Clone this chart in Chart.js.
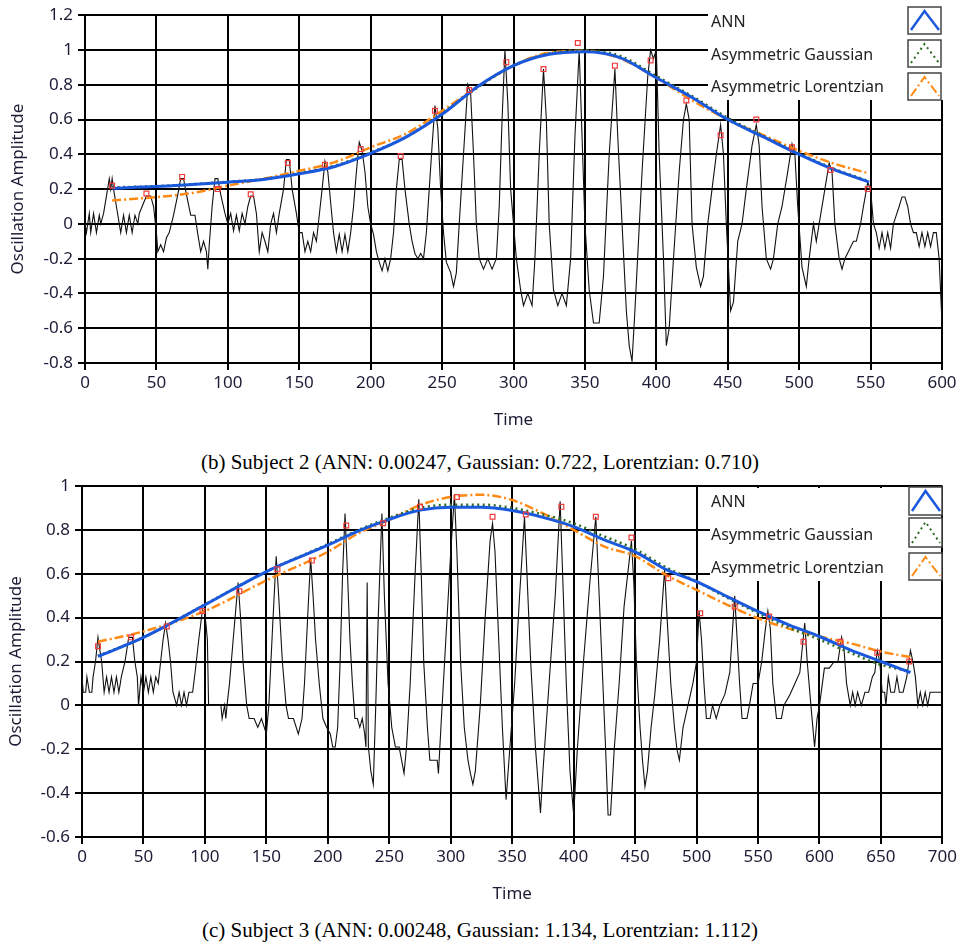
<!DOCTYPE html>
<html>
<head>
<meta charset="utf-8">
<script src="https://cdn.jsdelivr.net/npm/chart.js@4.4.1/dist/chart.umd.min.js"></script>
<style>
    body { margin: 0; background: #fff; width: 960px; height: 948px; position: relative; overflow: hidden; }
    canvas { position: absolute; left: 0; }
    .caption { position: absolute; left: 0; width: 960px; text-align: center; font-family: 'Liberation Serif', 'Times New Roman', serif; font-size: 21px; line-height: 24px; color: #000; white-space: nowrap; }
</style>
</head>
<body>
<canvas id="chart1" width="960" height="440" style="top:0px"></canvas>
<div class="caption" style="top:450px">(b) Subject 2 (ANN: 0.00247, Gaussian: 0.722, Lorentzian: 0.710)</div>
<canvas id="chart2" width="960" height="440" style="top:470px"></canvas>
<div class="caption" style="top:918px">(c) Subject 3 (ANN: 0.00248, Gaussian: 1.134, Lorentzian: 1.112)</div>
<script>
// ---- Subject 2 ----
// raw oscillation [time, amplitude]
const signal1 = [
    [0,0.0],[1,-0.05],[3,0.06],[4,-0.05],[6,0.06],[8,-0.05],[10,0.05],[11,0.0],[13,0.06],
    [15,0.16],[17,0.26],[18,0.2],[19,0.26],[20,0.2],[22,0.1],[24,0.0],
    [25,-0.05],[27,0.05],[29,-0.05],[31,0.05],[33,-0.05],[35,0.05],[37,0.0],[38,0.06],
    [41,0.12],[43,0.16],[46,0.16],[48,0.1],[50,-0.05],[51,-0.16],[53,-0.12],[55,-0.16],[57,-0.08],
    [59,-0.05],[62,0.05],[65,0.17],[67,0.26],[69,0.26],[71,0.17],[74,0.05],[77,0.05],[79,-0.06],
    [81,-0.16],[83,-0.1],[85,-0.16],[86,-0.26],[87,-0.12],[89,0.1],[91,0.26],[93,0.26],[95,0.17],
    [98,0.06],[100,0.0],[102,0.06],[104,-0.04],[106,0.05],[108,-0.04],[110,0.06],[112,0.0],
    [114,0.1],[116,0.16],[118,0.16],[120,0.06],[122,-0.16],[124,-0.05],[126,-0.1],[128,-0.16],
    [130,0.0],[132,0.06],[134,-0.05],[136,0.06],[139,0.2],[141,0.37],[143,0.37],[145,0.2],
    [148,0.06],[150,-0.05],[152,-0.05],[154,-0.16],[156,-0.1],[158,-0.16],[160,-0.05],[162,-0.1],
    [164,0.05],[166,0.2],[168,0.36],[170,0.3],[172,0.12],[174,-0.05],[176,-0.16],[178,-0.06],
    [180,-0.16],[182,-0.06],[184,-0.16],[186,-0.05],[188,0.1],[190,0.3],[192,0.47],[194,0.42],
    [196,0.3],[198,0.1],[200,0.0],[202,-0.06],[204,-0.16],[206,-0.22],[208,-0.27],[210,-0.2],
    [212,-0.27],[214,-0.2],[216,-0.05],[218,0.2],[220,0.37],[222,0.37],[224,0.2],[227,0.0],
    [229,-0.1],[231,-0.17],[233,-0.2],[235,-0.17],[237,-0.2],[239,-0.05],[241,0.2],[243,0.45],
    [245,0.68],[247,0.55],[249,0.2],[251,-0.05],[253,-0.22],[256,-0.28],[258,-0.36],[260,-0.28],
    [262,0.0],[265,0.4],[268,0.8],[270,0.75],[272,0.4],[274,0.0],[276,-0.2],[279,-0.26],
    [282,-0.2],[285,-0.26],[288,-0.2],[290,0.1],[292,0.6],[294,1.0],[296,0.7],[298,0.2],
    [302,-0.2],[305,-0.38],[307,-0.47],[310,-0.4],[313,-0.47],[315,-0.2],[318,0.4],[321,0.89],
    [323,0.6],[325,0.0],[328,-0.38],[331,-0.47],[334,-0.4],[337,-0.47],[340,-0.2],[343,0.5],
    [346,1.0],[348,0.5],[350,0.0],[353,-0.38],[356,-0.57],[360,-0.57],[363,-0.3],[367,0.4],
    [371,0.89],[373,0.5],[376,0.0],[379,-0.5],[381,-0.7],[383,-0.79],[385,-0.5],[390,0.3],
    [394,0.85],[396,1.0],[398,0.95],[400,1.0],[402,0.4],[405,-0.2],[407,-0.7],
    [409,-0.6],[412,-0.2],[416,0.3],[419,0.6],[421,0.69],[423,0.6],[425,0.0],[428,-0.25],
    [431,-0.36],[433,-0.3],[436,0.0],[439,0.2],[442,0.4],[445,0.57],[447,0.4],[449,0.0],
    [452,-0.5],[454,-0.45],[457,-0.1],[460,0.0],[463,0.2],[467,0.45],[470,0.57],[472,0.45],
    [474,0.1],[477,-0.2],[480,-0.26],[482,-0.2],[485,0.0],[488,0.1],[492,0.3],[495,0.46],
    [497,0.4],[499,0.1],[502,-0.25],[505,-0.36],[507,-0.2],[510,0.0],[512,-0.1],[515,0.05],
    [518,0.2],[521,0.35],[523,0.3],[525,0.0],[528,-0.2],[530,-0.26],[532,-0.2],[535,-0.15],
    [538,-0.1],[540,-0.1],[543,0.0],[545,0.1],[548,0.24],[550,0.2],[552,0.0],[554,-0.05],
    [556,-0.14],[558,-0.05],[560,-0.14],[562,-0.05],[564,-0.14],[566,0.0],[568,0.05],[570,0.1],
    [572,0.155],[574,0.155],[576,0.1],[578,0.0],[580,-0.05],[582,-0.05],[584,-0.13],[586,-0.05],
    [588,-0.13],[590,-0.05],[592,-0.13],[594,-0.05],[596,-0.05],[598,-0.2],[600,-0.57]
];
const peakTime1 = [19, 43, 68, 93, 116, 142, 168, 193, 221, 245, 269, 295, 321, 345, 371, 396, 421, 445, 470, 495, 522, 548];
const peakAmp1 = [0.22, 0.175, 0.27, 0.2, 0.17, 0.35, 0.34, 0.43, 0.39, 0.65, 0.77, 0.93, 0.89, 1.04, 0.91, 0.94, 0.71, 0.51, 0.6, 0.44, 0.31, 0.2];
const fitTime1 = [19, 50, 75, 100, 125, 150, 175, 200, 225, 250, 275, 300, 325, 350, 375, 400, 425, 450, 475, 500, 525, 549];
const ann1 = [0.205, 0.215, 0.227, 0.24, 0.255, 0.288, 0.33, 0.405, 0.5, 0.63, 0.79, 0.91, 0.975, 0.99, 0.955, 0.84, 0.727, 0.6, 0.5, 0.4, 0.31, 0.24];
const gauss1 = [0.21, 0.217, 0.228, 0.242, 0.258, 0.292, 0.335, 0.41, 0.5, 0.635, 0.785, 0.91, 0.98, 0.998, 0.965, 0.85, 0.735, 0.61, 0.505, 0.405, 0.315, 0.245];
const lor1 = [0.135, 0.154, 0.177, 0.22, 0.26, 0.305, 0.355, 0.44, 0.52, 0.65, 0.79, 0.91, 0.985, 0.995, 0.95, 0.84, 0.71, 0.6, 0.51, 0.42, 0.345, 0.29];

// ---- Subject 3 ----
const signal2 = [
    [0,0.13],[1,0.06],[3,0.06],[4,0.13],[6,0.06],[8,0.06],[9,0.13],[11,0.2],[13,0.31],[14,0.27],
    [16,0.2],[18,0.06],[20,0.13],[22,0.06],[24,0.13],[26,0.06],[28,0.13],[30,0.06],[32,0.13],
    [35,0.2],[38,0.31],[41,0.31],[43,0.2],[45,0.13],[46,0.0],[48,0.13],[50,0.06],[52,0.13],
    [54,0.06],[56,0.13],[58,0.06],[60,0.13],[62,0.1],[64,0.2],[66,0.3],[68,0.375],[70,0.3],
    [72,0.2],[74,0.06],[77,0.0],[79,0.06],[81,0.0],[83,0.06],[85,0.0],[87,0.06],[90,0.06],
    [92,0.15],[95,0.3],[98,0.435],[100,0.42],[102,0.3],[103,0.0],[113,0.0],[114,-0.06],[116,0.0],
    [117,-0.06],[118,0.0],[120,0.1],[123,0.3],[127,0.56],[129,0.4],[131,0.2],[134,0.0],
    [136,-0.06],[140,-0.06],[143,-0.1],[146,-0.06],[150,-0.13],[152,0.0],[155,0.35],[158,0.68],
    [160,0.5],[163,0.2],[166,0.0],[168,-0.06],[172,-0.06],[176,-0.13],[179,-0.06],[181,0.1],
    [184,0.45],[186,0.67],[188,0.5],[190,0.3],[193,0.1],[196,-0.06],[199,-0.1],[202,-0.13],
    [204,-0.19],[206,-0.19],[208,-0.1],[210,0.2],[212,0.6],[214,0.875],[216,0.6],[218,0.3],
    [220,0.1],[222,-0.06],[224,-0.06],[226,-0.1],[228,-0.06],[230,-0.13],[231,-0.19],[232,0.56],
    [233,-0.19],[235,-0.3],[237,-0.36],[239,0.0],[241,0.4],[244,0.875],[246,0.5],[249,0.1],
    [252,-0.1],[255,-0.19],[258,-0.19],[260,-0.25],[262,-0.31],[264,-0.19],[267,0.1],[271,0.6],
    [274,0.94],[276,0.6],[278,0.2],[281,-0.1],[283,-0.25],[286,-0.25],[289,-0.25],[290,-0.31],
    [292,-0.1],[296,0.3],[300,0.7],[303,0.96],[305,0.7],[308,0.2],[311,-0.1],[314,-0.25],
    [316,-0.31],[318,-0.36],[320,-0.3],[324,0.0],[328,0.4],[332,0.75],[334,0.83],[336,0.7],
    [339,0.3],[342,-0.1],[345,-0.43],[348,-0.2],[352,0.1],[356,0.5],[360,0.86],[362,0.6],
    [365,0.2],[369,-0.2],[373,-0.49],[375,-0.3],[380,0.1],[385,0.5],[389,0.93],[391,0.6],
    [394,0.1],[397,-0.3],[400,-0.5],[403,-0.2],[408,0.2],[413,0.55],[418,0.86],[420,0.6],
    [423,0.2],[426,-0.2],[428,-0.5],[430,-0.5],[433,-0.2],[437,0.1],[441,0.45],[447,0.75],
    [449,0.55],[451,0.2],[454,-0.1],[456,-0.25],[458,-0.37],[460,-0.3],[463,-0.1],[466,0.05],
    [470,0.3],[474,0.62],[476,0.4],[479,0.1],[482,-0.1],[484,-0.2],[486,-0.25],[489,-0.1],
    [493,0.0],[497,0.1],[500,0.2],[502,0.43],[504,0.3],[506,0.1],[508,-0.06],[511,-0.06],
    [513,0.0],[516,-0.06],[519,0.0],[523,0.05],[527,0.15],[531,0.5],[533,0.3],[535,0.1],
    [537,-0.06],[541,-0.06],[543,0.0],[546,0.1],[550,0.1],[553,0.2],[556,0.35],[558,0.43],
    [560,0.35],[562,0.1],[565,-0.06],[569,-0.06],[571,0.0],[576,0.05],[580,0.1],[584,0.15],
    [588,0.375],[590,0.2],[593,0.0],[596,-0.19],[598,-0.06],[600,0.0],[604,0.17],[608,0.17],
    [612,0.2],[615,0.2],[618,0.31],[620,0.25],[622,0.1],[625,0.0],[627,0.06],[629,0.0],
    [631,0.06],[634,0.0],[637,0.06],[640,0.06],[643,0.13],[645,0.15],[647,0.25],[649,0.2],
    [651,0.06],[653,0.06],[654,0.0],[656,0.13],[658,0.06],[661,0.06],[663,0.13],[665,0.06],
    [668,0.06],[671,0.13],[674,0.25],[676,0.2],[678,0.13],[680,0.0],[682,0.06],[684,0.0],
    [686,0.06],[688,0.0],[690,0.06],[699,0.06]
];
const peakTime2 = [13, 40, 69, 98, 128, 159, 187, 215, 245, 275, 305, 334, 361, 390, 418, 447, 477, 503, 531, 559, 587, 617, 647, 673];
const peakAmp2 = [0.27, 0.31, 0.36, 0.43, 0.52, 0.62, 0.66, 0.82, 0.83, 0.905, 0.95, 0.86, 0.87, 0.905, 0.86, 0.765, 0.58, 0.42, 0.45, 0.405, 0.29, 0.29, 0.24, 0.2];
const fitTime2 = [13, 50, 100, 150, 200, 225, 250, 275, 300, 325, 350, 375, 400, 425, 450, 475, 500, 525, 550, 575, 600, 625, 650, 674];
const ann2 = [0.223, 0.31, 0.458, 0.61, 0.73, 0.795, 0.848, 0.89, 0.903, 0.903, 0.888, 0.857, 0.815, 0.754, 0.7, 0.62, 0.564, 0.496, 0.428, 0.367, 0.314, 0.253, 0.2, 0.15];
const gauss2 = [0.225, 0.31, 0.46, 0.61, 0.735, 0.8, 0.855, 0.9, 0.915, 0.915, 0.9, 0.87, 0.83, 0.77, 0.712, 0.63, 0.565, 0.49, 0.42, 0.355, 0.3, 0.24, 0.185, 0.155];
const lor2 = [0.29, 0.337, 0.43, 0.57, 0.7, 0.785, 0.845, 0.913, 0.95, 0.96, 0.936, 0.875, 0.8, 0.724, 0.68, 0.595, 0.526, 0.458, 0.397, 0.35, 0.314, 0.283, 0.245, 0.22];

const seriesNames = ['ANN', 'Asymmetric Gaussian', 'Asymmetric Lorentzian'];
const seriesColors = ['#1a58dc', '#2e6a20', '#ff8a14'];
const seriesDash = [[], [2, 3.5], [9, 3, 2, 3]];
const tickColor = '#1c1c36';

function pairs(xs, ys) {
    return xs.map((x, i) => ({ x, y: ys[i] }));
}

function boxLegend(box) {
    return {
        id: 'boxLegend',
        beforeDatasetsDraw(chart) {
            const ctx = chart.ctx;
            ctx.save();
            ctx.fillStyle = '#fff';
            ctx.fillRect(box.x, box.y, box.w, box.h);
            ctx.restore();
        },
        afterDatasetsDraw(chart) {
            const ctx = chart.ctx;
            ctx.save();
            ctx.font = '16px "Noto Sans"';
            ctx.fillStyle = '#222';
            seriesNames.forEach((name, i) => {
                ctx.setLineDash([]);
                ctx.fillText(name, box.textX, box.baselines[i]);
                const [ix, iy, iw, ih] = box.icons[i];
                ctx.fillStyle = '#fff';
                ctx.fillRect(ix, iy, iw, ih);
                ctx.fillStyle = '#222';
                ctx.lineWidth = 1.5;
                ctx.strokeStyle = '#444';
                ctx.strokeRect(ix, iy, iw, ih);
                ctx.beginPath();
                ctx.moveTo(ix + 3, iy + ih - 4);
                ctx.lineTo(ix + iw / 2, iy + 4);
                ctx.lineTo(ix + iw - 2, iy + ih - 4);
                ctx.strokeStyle = seriesColors[i];
                ctx.lineWidth = i === 0 ? 2.5 : 2;
                ctx.setLineDash(seriesDash[i]);
                ctx.stroke();
            });
            ctx.restore();
        }
    };
}

function makeChart(id, o) {
    const fitData = [o.ann, o.gauss, o.lor];
    const datasets = [{
        type: 'scatter',
        data: pairs(o.peakTime, o.peakAmp),
        pointStyle: 'rect',
        pointRadius: 3.4,
        borderColor: '#ee3b3b',
        borderWidth: 1.2,
        backgroundColor: 'rgba(255,255,255,0)',
        showLine: false
    }];
    fitData.forEach((vals, i) => {
        datasets.push({
            type: 'line',
            data: pairs(o.fitTime, vals),
            borderColor: seriesColors[i],
            borderWidth: i === 0 ? 3 : 2.5,
            borderDash: seriesDash[i],
            pointRadius: 0,
            cubicInterpolationMode: 'monotone',
            fill: false
        });
    });
    datasets.push({
        type: 'line',
        data: o.signal.map(p => ({ x: p[0], y: p[1] })),
        borderColor: '#111',
        borderWidth: 1.1,
        pointRadius: 0,
        tension: 0,
        fill: false
    });

    const grid = { color: '#000', lineWidth: 2, tickLength: 7 };
    return new Chart(document.getElementById(id), {
        data: { datasets },
        options: {
            responsive: false,
            animation: false,
            devicePixelRatio: 1,
            layout: { padding: { top: o.top, right: o.right, left: 0, bottom: 0 } },
            plugins: { legend: { display: false }, tooltip: { enabled: false } },
            scales: {
                x: {
                    type: 'linear', min: 0, max: o.xMax,
                    grid,
                    border: { color: '#000', width: 2 },
                    ticks: { stepSize: 50, color: tickColor, padding: 3, maxRotation: 0, font: { family: 'Noto Sans', size: 17 } },
                    title: { display: true, text: 'Time', color: tickColor, font: { family: 'Noto Sans', size: 17 }, padding: { top: 0, bottom: o.timePad } },
                    afterFit: s => { s.height = o.xHeight; }
                },
                y: {
                    min: o.yMin, max: o.yMax,
                    grid,
                    border: { color: '#000', width: 2 },
                    ticks: { stepSize: 0.2, color: tickColor, padding: 5, font: { family: 'Noto Sans', size: 17 },
                        callback: v => String(parseFloat(v.toFixed(1))) },
                    title: { display: true, text: 'Oscillation Amplitude', color: tickColor, font: { family: 'Noto Sans', size: 17 }, padding: { top: o.ampPad, bottom: 0 } },
                    afterFit: s => { s.width = o.yWidth; }
                }
            }
        },
        plugins: [boxLegend(o.legend)]
    });
}

makeChart('chart1', {
    signal: signal1, peakTime: peakTime1, peakAmp: peakAmp1,
    fitTime: fitTime1, ann: ann1, gauss: gauss1, lor: lor1,
    xMax: 600, yMin: -0.8, yMax: 1.2,
    top: 14, right: 18, yWidth: 85, xHeight: 77, timePad: 10, ampPad: 8,
    legend: {
        x: 708, y: 0, w: 252, h: 100, textX: 711, baselines: [27, 59.5, 92],
        icons: [[908, 7, 33, 27], [908, 40, 33, 27], [908, 73, 33, 27]]
    }
});

makeChart('chart2', {
    signal: signal2, peakTime: peakTime2, peakAmp: peakAmp2,
    fitTime: fitTime2, ann: ann2, gauss: gauss2, lor: lor2,
    xMax: 700, yMin: -0.6, yMax: 1.0,
    top: 16, right: 16, yWidth: 82, xHeight: 73, timePad: 6, ampPad: 6,
    legend: {
        x: 710, y: 18, w: 230, h: 93, textX: 711, baselines: [37, 70, 103],
        icons: [[909, 17, 33, 28], [909, 48, 33, 29], [909, 83, 33, 27]]
    }
});
</script>
</body>
</html>
